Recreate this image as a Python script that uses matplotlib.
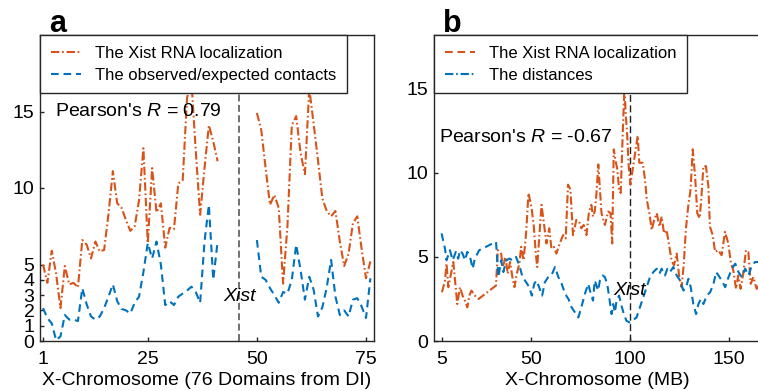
import matplotlib
matplotlib.use('Agg')
import matplotlib.pyplot as plt
import numpy as np
from matplotlib.lines import Line2D

plt.rcParams['font.family'] = ['Liberation Sans', 'DejaVu Sans']
plt.rcParams['mathtext.fontset'] = 'custom'
plt.rcParams['mathtext.it'] = 'Liberation Sans:italic'
plt.rcParams['mathtext.rm'] = 'Liberation Sans'
plt.rcParams['lines.scale_dashes'] = False

# ---------------- Panel a data (76 domains, gap 42-49) ----------------
domains_a = np.arange(1, 77)
xist_a_left = [5.0, 3.8, 5.9, 4.4, 2.15, 4.9, 3.7, 3.8, 3.5, 6.6,
               6.3, 5.4, 6.5, 5.85, 5.95, 8.3, 11.1, 9.0, 8.7, 7.9,
               7.2, 7.5, 9.2, 12.6, 6.4, 11.3, 8.4, 9.0, 6.1, 7.4,
               7.3, 10.3, 10.5, 15.9, 17.0, 12.4, 8.25, 11.3, 14.1, 13.05, 11.75]
xist_a_right = [14.9, 13.8, 11.3, 8.9, 9.55, 8.7, 3.75, 7.5, 14.1, 14.7,
                12.3, 10.9, 16.5, 14.2, 11.8, 9.3, 8.5, 8.15, 8.5, 6.5,
                4.9, 5.7, 7.7, 8.15, 6.0, 4.1, 5.2]
oe_a_left = [2.15, 1.5, 1.15, 0.05, 0.3, 1.7, 1.4, 1.4, 1.3, 3.45,
             2.4, 1.6, 1.4, 1.6, 2.15, 2.9, 3.7, 2.6, 2.1, 2.0,
             1.8, 2.5, 2.9, 4.5, 6.4, 5.4, 6.5, 5.0, 2.35, 2.6,
             2.35, 2.9, 3.1, 3.3, 3.55, 3.2, 2.5, 6.5, 8.9, 4.0, 6.5]
oe_a_right = [6.6, 4.2, 4.0, 3.45, 3.0, 2.5, 3.2, 3.1, 4.0, 6.3,
              4.65, 2.7, 4.2, 3.35, 1.6, 2.2, 3.5, 5.3, 2.9, 1.7,
              2.0, 1.6, 2.7, 2.8, 2.25, 1.5, 4.1]
gap_a = [np.nan] * 8
xist_a = xist_a_left + gap_a + xist_a_right
oe_a = oe_a_left + gap_a + oe_a_right

# ---------------- Panel b data (MB) ----------------
xist_b_x = [5, 6.5, 7.3, 8.2, 9.9, 10.7, 11.6, 12.7, 14.1, 15.4, 16.6, 17.8, 18.8, 19.9, 21.6, 23.5,
            32.3, 33.2, 34.9, 35.7, 37.1, 38.2, 39.4, 40.7, 41.6, 42.8, 44.1, 45.0, 46.2, 47.5, 48.7,
            50.3, 51.4, 52.4, 53.1, 54.4, 55.3, 56.5, 57.8, 59.2, 60.3, 61.5, 62.8, 64.5, 66.2, 67.5,
            68.7, 69.9, 71.2, 72.9, 74.3, 75.4, 76.6, 78.0, 79.3, 80.5, 81.3, 82.2, 83.0, 84.0, 85.6,
            87.3, 89.0, 90.2, 91.0, 91.8, 92.6, 93.6, 94.5, 95.3, 96.3, 97.2, 97.8, 98.6, 99.3, 100.2,
            103.9, 104.7, 106.4, 107.6, 108.5, 109.8, 111.0, 112.2, 113.5, 114.9, 116.0, 117.2, 118.5,
            119.9, 121.0, 122.2, 123.6, 124.9, 126.1, 127.2, 128.2, 129.4, 130.6, 131.7, 132.9, 134.0,
            135.2, 136.0, 137.1, 138.4, 139.6, 140.4, 141.8, 143.0, 144.6, 146.3, 148.0, 149.7, 150.9,
            152.2, 153.6, 154.7, 155.9, 157.2, 158.6, 159.8, 161.0, 162.3, 164.0, 166.0]
xist_b_y = [2.9, 3.6, 4.6, 3.2, 4.2, 4.7, 3.6, 2.2, 3.2, 2.7, 2.4, 2.0, 2.7, 3.0, 2.7, 2.5,
            3.3, 5.4, 5.2, 4.4, 5.0, 4.0, 4.7, 3.7, 3.2, 4.0, 4.6, 5.6, 4.8, 6.4, 8.8,
            7.9, 6.8, 5.2, 4.4, 6.6, 8.1, 7.0, 5.8, 6.7, 5.5, 5.6, 5.2, 5.8, 6.3, 6.1,
            9.3, 9.0, 6.3, 7.2, 7.1, 6.7, 6.9, 6.3, 7.7, 8.1, 7.4, 7.7, 8.7, 10.5, 7.6,
            6.9, 7.7, 7.6, 5.8, 11.4, 10.8, 10.2, 9.0, 8.8, 12.2, 15.2, 13.6, 12.2, 10.5, 9.3,
            12.2, 10.6, 10.6, 9.6, 8.4, 7.6, 6.6, 7.2, 7.6, 6.8, 7.4, 6.4, 6.6,
            5.6, 4.8, 4.5, 5.2, 3.8, 3.2, 4.6, 6.6, 8.0, 9.0, 11.4, 9.8, 7.6,
            7.3, 8.4, 10.4, 10.4, 9.2, 6.8, 6.3, 5.3, 5.4, 5.1, 6.5, 5.8, 4.7,
            4.2, 3.1, 3.9, 3.1, 4.0, 5.4, 5.3, 3.4, 3.8, 3.1, 3.5]
dist_b_x = [4.8, 6.5, 7.3, 9.0, 10.4, 12.0, 13.2, 14.1, 15.4, 16.6, 17.8, 19.2, 20.5, 21.6, 23.8,
            32.3, 33.5, 34.9, 36.0, 37.5, 39.1, 40.7, 42.4, 44.1, 45.7, 47.5, 49.1, 50.4, 51.6,
            52.8, 54.4, 55.6, 57.0, 58.7, 60.3, 62.1, 63.8, 65.5, 67.2, 68.9, 70.5, 72.2, 73.9,
            75.4, 77.2, 78.9, 80.0, 81.3, 82.2, 83.9, 84.8, 86.2, 87.3, 88.5, 89.5, 90.7, 91.5,
            92.4, 93.2, 94.5, 95.7, 96.9, 98.2, 99.9, 103.3, 105.0, 106.7, 108.4, 110.1, 111.8,
            113.5, 114.9, 116.0, 117.7, 118.9, 120.2, 121.9, 123.6, 125.3, 127.0, 128.4, 129.5,
            130.7, 132.0, 133.4, 134.6, 135.8, 137.1, 138.8, 140.5, 142.2, 143.5, 144.7, 146.4,
            148.1, 149.8, 151.5, 153.2, 154.8, 156.5, 158.2, 159.9, 161.6, 163.3, 166.0]
dist_b_y = [6.4, 5.5, 4.8, 5.4, 4.8, 5.3, 4.9, 5.4, 5.2, 4.8, 5.3, 5.0, 4.3, 4.9, 5.4,
            5.9, 3.8, 4.8, 4.1, 4.8, 4.9, 4.8, 5.0, 4.5, 3.8, 3.5, 3.2, 2.7, 3.4,
            3.6, 3.1, 2.7, 3.5, 3.8, 3.9, 4.4, 3.8, 3.4, 2.8, 2.5, 2.0, 1.7, 1.4,
            2.0, 2.8, 3.4, 2.9, 2.4, 3.6, 3.0, 3.6, 3.9, 3.8, 3.4, 2.6, 1.6, 2.2,
            1.7, 2.4, 2.7, 2.1, 1.6, 1.2, 1.1, 1.4, 2.0, 2.6, 3.2, 3.8, 4.1,
            4.3, 4.0, 4.3, 3.9, 4.3, 4.1, 4.4, 3.9, 3.6, 3.0, 3.2, 3.7,
            3.2, 2.2, 1.6, 2.2, 2.5, 2.2, 2.7, 2.9, 3.4, 4.1, 3.9, 3.6,
            3.2, 3.8, 4.3, 4.6, 4.1, 3.8, 4.3, 3.9, 4.5, 4.7, 4.7]

ticks_a_x = [1, 25, 50, 75]
ticks_a_y = [0, 1, 2, 3, 4, 5, 10, 15]
ticks_b_x = [5, 50, 100, 150]
ticks_b_y = [0, 5, 10, 15]

ORANGE = '#D95319'
BLUE = '#0072BD'
SPINE = '#262626'
DASHDOT = (6.0, 2.0, 1.2, 2.0)
DASHED = (5.5, 3.5)
LW = 1.5

fig = plt.figure(figsize=(7.58, 3.91), dpi=100)
axa = fig.add_axes([40/758, 50/391, 334/758, 306/391])
axb = fig.add_axes([434/758, 50/391, 326.6/758, 306/391])

# ---- Panel a
axa.plot(domains_a, xist_a, color=ORANGE, lw=LW, dashes=DASHDOT)
axa.plot(domains_a, oe_a, color=BLUE, lw=LW, dashes=DASHED)
axa.axvline(46, color='#707070', lw=1.4, dashes=(5, 2.5), zorder=1)
axa.text(46, 2.9, 'Xist', fontsize=14, style='italic', ha='center', va='center')
axa.text(3.75, 15.0, "Pearson's $\\mathit{R}$ = 0.79", fontsize=14, ha='left', va='center')
axa.set_xlim(0.31, 76.83)
axa.set_ylim(0, 20)
axa.set_xticks(ticks_a_x)
axa.set_yticks(ticks_a_y)
axa.set_xlabel('X-Chromosome (76 Domains from DI)', fontsize=14, labelpad=3)
ha = [Line2D([], [], color=ORANGE, lw=LW, dashes=DASHDOT),
      Line2D([], [], color=BLUE, lw=LW, dashes=DASHED)]
leg = axa.legend(ha, ['The Xist RNA localization', 'The observed/expected contacts'],
                 loc='upper left', bbox_to_anchor=(0, 1), borderaxespad=0, fontsize=12,
                 fancybox=False, edgecolor=SPINE, framealpha=1, handlelength=1.8,
                 handletextpad=0.85, borderpad=0.65, labelspacing=0.4)
leg.get_frame().set_linewidth(1.0)

# ---- Panel b
axb.plot(xist_b_x, xist_b_y, color=ORANGE, lw=LW, dashes=DASHDOT)
axb.plot(dist_b_x, dist_b_y, color=BLUE, lw=LW, dashes=DASHED)
axb.axvline(100, color='#202020', lw=1.0, dashes=(5, 2.5), zorder=1)
axb.text(100, 3.0, 'Xist', fontsize=14, style='italic', ha='center', va='center')
axb.text(3.5, 12.1, "Pearson's $\\mathit{R}$ = -0.67", fontsize=14, ha='left', va='center')
axb.set_xlim(0.96, 166)
axb.set_ylim(0, 18.2)
axb.set_xticks(ticks_b_x)
axb.set_yticks(ticks_b_y)
axb.set_xlabel('X-Chromosome (MB)', fontsize=14, labelpad=3)
hb = [Line2D([], [], color=ORANGE, lw=LW, dashes=DASHED),
      Line2D([], [], color=BLUE, lw=LW, dashes=DASHDOT)]
leg = axb.legend(hb, ['The Xist RNA localization', 'The distances'],
                 loc='upper left', bbox_to_anchor=(0, 1), borderaxespad=0, fontsize=12,
                 fancybox=False, edgecolor=SPINE, framealpha=1, handlelength=1.8,
                 handletextpad=0.85, borderpad=0.65, labelspacing=0.4)
leg.get_frame().set_linewidth(1.0)

for ax in (axa, axb):
    for s in ax.spines.values():
        s.set_color(SPINE)
        s.set_linewidth(1.0)
    ax.tick_params(axis='x', direction='in', length=3, width=1, color=SPINE, labelsize=14,
                   top=False, pad=7)
    ax.tick_params(axis='y', direction='in', length=3, width=1, color=SPINE, labelsize=14,
                   right=False, pad=4)

fig.text(49/758, (391-32)/391, 'a', fontsize=22, fontweight='bold', ha='left', va='baseline')
fig.text(443/758, (391-32)/391, 'b', fontsize=22, fontweight='bold', ha='left', va='baseline')

fig.savefig('out.png', dpi=100)
